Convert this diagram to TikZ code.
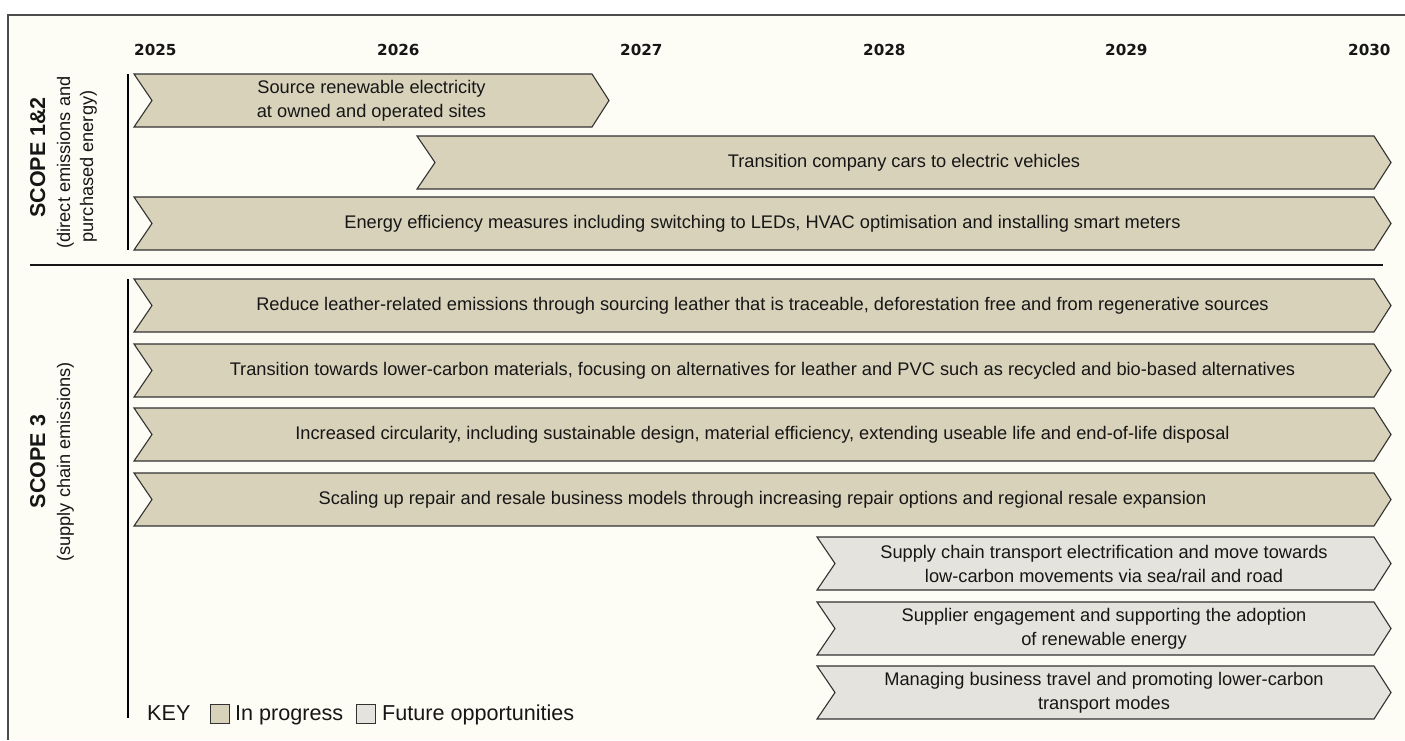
\documentclass[tikz,border=0pt]{standalone}
\usepackage{fontspec}
\setmainfont{Liberation Sans}
\newfontfamily\yearfont{DejaVu Sans}
\definecolor{paper}{RGB}{253,253,245}
\definecolor{progress}{RGB}{216,210,187}
\definecolor{future}{RGB}{228,227,222}
\definecolor{edge}{RGB}{50,50,50}
\definecolor{ink}{RGB}{22,22,22}

% chevron bar: #1 style, #2 node name, #3 left x, #4 body right x, #5 top y, #6 text
\newcommand\chevbar[6]{%
  \path[#1] (#3,#5) -- (#4,#5) -- ({#4+17},{#5+26.5}) -- (#4,{#5+53})
    -- (#3,{#5+53}) -- ({#3+18},{#5+26.5}) -- cycle;
  \node[lbl] (#2) at ({(#3+#4+17)/2},{#5+26.5}) {#6};}

\begin{document}
\begin{tikzpicture}[x=1pt,y=-1pt,
  bar/.style={draw=edge,line width=1.1pt,line join=miter},
  inprog/.style={bar,fill=progress},
  later/.style={bar,fill=future},
  lbl/.style={align=center,inner sep=0pt,text=ink,font=\fontsize{18.25}{24}\selectfont},
  yr/.style={anchor=west,inner sep=0pt,text=ink,font=\yearfont\bfseries\fontsize{15.2}{18}\selectfont},
  scopehead/.style={rotate=90,anchor=base,inner sep=0pt,text=ink,font=\bfseries\fontsize{21.5}{24}\selectfont},
  scopesub/.style={rotate=90,anchor=base,inner sep=0pt,text=ink,font=\fontsize{18.2}{22}\selectfont},
  axis/.style={draw=black,line width=1.3pt},
  keytxt/.style={anchor=base west,inner sep=0pt,text=ink,font=\fontsize{21.6}{24}\selectfont},
  keybox/.style={draw=edge,line width=1pt}]

\useasboundingbox (0,0) rectangle (1405,740);
\fill[white] (0,0) rectangle (1405,740);
\fill[paper] (8,15) rectangle (1405,740);
\draw[draw=black!70,line width=1.3pt] (8,740) -- (8,15) -- (1405,15);

% timeline years
\node[yr] (y2025) at (134,50) {2025};
\node[yr] (y2026) at (377,50) {2026};
\node[yr] (y2027) at (620,50) {2027};
\node[yr] (y2028) at (863,50) {2028};
\node[yr] (y2029) at (1105,50) {2029};
\node[yr] (y2030) at (1348,50) {2030};

% scope headings
\node[scopehead] (s12) at (45,157.5) {SCOPE 1\&2};
\node[scopesub] (s12a) at (70,162.5) {(direct emissions and};
\node[scopesub] (s12b) at (93,166.5) {purchased energy)};
\node[scopehead] (s3) at (45,461.5) {SCOPE 3};
\node[scopesub] (s3a) at (70,462) {(supply chain emissions)};

% axis lines and divider
\draw[axis] (128,74) -- (128,250);
\draw[axis] (128,279) -- (128,718);
\draw[draw=ink,line width=1.2pt] (30,265) -- (1383,265);

% scope 1 & 2 actions
\chevbar{inprog}{a1}{134}{592}{74}{Source renewable electricity\\at owned and operated sites}
\chevbar{inprog}{a2}{417}{1374}{136}{Transition company cars to electric vehicles}
\chevbar{inprog}{a3}{134}{1374}{197}{Energy efficiency measures including switching to LEDs, HVAC optimisation and installing smart meters}

% scope 3 actions
\chevbar{inprog}{b1}{134}{1374}{279}{Reduce leather-related emissions through sourcing leather that is traceable, deforestation free and from regenerative sources}
\chevbar{inprog}{b2}{134}{1374}{344}{Transition towards lower-carbon materials, focusing on alternatives for leather and PVC such as recycled and bio-based alternatives}
\chevbar{inprog}{b3}{134}{1374}{408}{Increased circularity, including sustainable design, material efficiency, extending useable life and end-of-life disposal}
\chevbar{inprog}{b4}{134}{1374}{473}{Scaling up repair and resale business models through increasing repair options and regional resale expansion}
\chevbar{later}{c1}{817}{1374}{537}{Supply chain transport electrification and move towards\\low-carbon movements via sea/rail and road}
\chevbar{later}{c2}{817}{1374}{602}{Supplier engagement and supporting the adoption\\of renewable energy}
\chevbar{later}{c3}{817}{1374}{666}{Managing business travel and promoting lower-carbon\\transport modes}

% key
\node[keytxt] (key) at (147,720.5) {KEY};
\filldraw[keybox,fill=progress] (210,704) rectangle (229,723);
\node[keytxt] (kprog) at (235,720.5) {In progress};
\filldraw[keybox,fill=future] (356,704) rectangle (375,723);
\node[keytxt] (kfut) at (382,720.5) {Future opportunities};
\end{tikzpicture}
\end{document}
